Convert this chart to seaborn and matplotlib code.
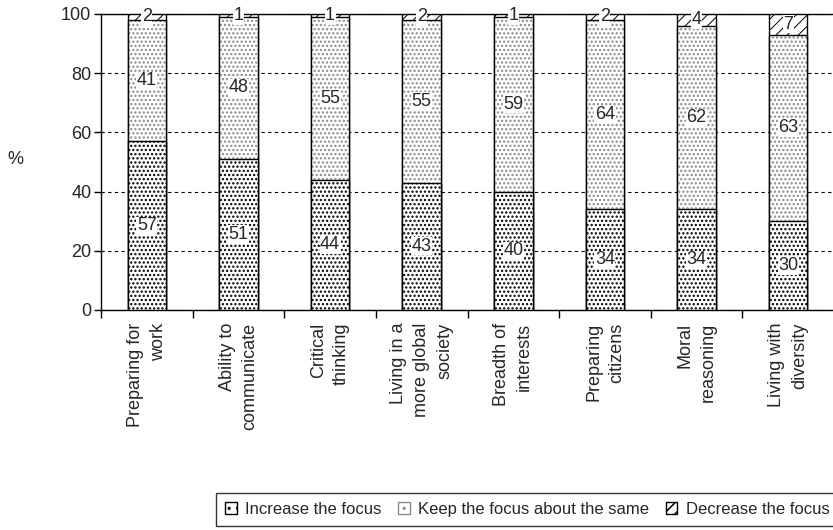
import matplotlib
matplotlib.use("Agg")
import matplotlib.pyplot as plt
import seaborn as sns
import pandas as pd
import numpy as np

areas = ["Preparing for\nwork", "Ability to\ncommunicate", "Critical\nthinking",
         "Living in a\nmore global\nsociety", "Breadth of\ninterests", "Preparing\ncitizens",
         "Moral\nreasoning", "Living with\ndiversity"]
increase = [57, 51, 44, 43, 40, 34, 34, 30]
keep = [41, 48, 55, 55, 59, 64, 62, 63]
decrease = [2, 1, 1, 2, 1, 2, 4, 7]
series = ["Increase the focus", "Keep the focus about the same", "Decrease the focus"]

sns.set_theme(style="white")
plt.rcParams["font.family"] = ["Liberation Sans", "DejaVu Sans"]
plt.rcParams["hatch.linewidth"] = 1.1

df = pd.DataFrame({"area": areas, "inc": increase, "keep": keep, "dec": decrease})
df["c1"] = df["inc"]
df["c2"] = df["inc"] + df["keep"]
df["c3"] = df["c2"] + df["dec"]

fig = plt.figure(figsize=(8.33, 5.30), dpi=100)
ax = fig.add_axes([101 / 833, (530 - 310) / 530, 733 / 833, 296 / 530])

# stacked by drawing cumulative heights from the top layer down
layers = [("c3", "///", "black", 0.7), ("c2", "....", "#8a8a8a", 1.1), ("c1", "....", "black", 1.1)]
for col, hatch, hc, hlw in layers:
    n0 = len(ax.patches)
    sns.barplot(data=df, x="area", y=col, color="white", width=0.42, edgecolor="black",
                linewidth=1.0, hatch=hatch, errorbar=None, saturation=1, ax=ax, zorder=3)
    for p in ax.patches[n0:]:
        p.set_facecolor("white")
        p._hatch_color = matplotlib.colors.to_rgba(hc)
        if hasattr(p, "set_hatch_linewidth"):
            p.set_hatch_linewidth(hlw)
        else:
            p._hatch_linewidth = hlw

# value labels in the middle of each segment
for i in range(len(areas)):
    mids = [increase[i] / 2, increase[i] + keep[i] / 2, increase[i] + keep[i] + decrease[i] / 2]
    for v, m in zip([increase[i], keep[i], decrease[i]], mids):
        ax.text(i, m, str(v), ha="center", va="center", fontsize=13, zorder=5,
                bbox=dict(boxstyle="square,pad=0.03", fc="white", ec="none"))

ax.set_ylim(0, 100)
ax.set_xlim(-0.5, len(areas) - 0.5)
ax.set_yticks([0, 20, 40, 60, 80, 100])
ax.tick_params(axis="y", which="major", direction="out", length=5, width=1, color="black",
               labelsize=13, pad=2, left=True)
ax.set_xticks(np.arange(len(areas)))
ax.set_xticklabels(areas, rotation=90, ha="center", va="top", multialignment="right",
                   fontsize=13, linespacing=1.45)
ax.set_xticks(np.arange(-0.5, len(areas)), minor=True)
ax.tick_params(axis="x", which="major", length=0, pad=9)
ax.tick_params(axis="x", which="minor", direction="out", length=6, width=1, color="black", bottom=True)
ax.yaxis.grid(True, linestyle=(0, (3, 3)), color="black", linewidth=0.8)
ax.set_axisbelow(True)
ax.set_xlabel("")
ax.set_ylabel("%", rotation=0, fontsize=13, va="center", ha="center")
ax.yaxis.set_label_coords(-0.117, 0.51)
for s in ["left", "top", "bottom"]:
    ax.spines[s].set_color("black")
    ax.spines[s].set_linewidth(1)
ax.spines["right"].set_visible(False)

handles = [matplotlib.patches.Patch(facecolor="white", edgecolor="black", hatch="..", label=series[0]),
           matplotlib.patches.Patch(facecolor="white", edgecolor="#8a8a8a", hatch="..", label=series[1]),
           matplotlib.patches.Patch(facecolor="white", edgecolor="black", hatch="///", label=series[2])]
leg = fig.legend(handles=handles, loc="center", bbox_to_anchor=(0.633, 0.0385), ncol=3,
                 fontsize=12, frameon=True, fancybox=False, edgecolor="black",
                 handlelength=0.7, handleheight=0.7, handletextpad=0.5, columnspacing=1.0,
                 borderpad=0.55)
leg.get_frame().set_linewidth(1)

fig.savefig("out.png", dpi=100)
